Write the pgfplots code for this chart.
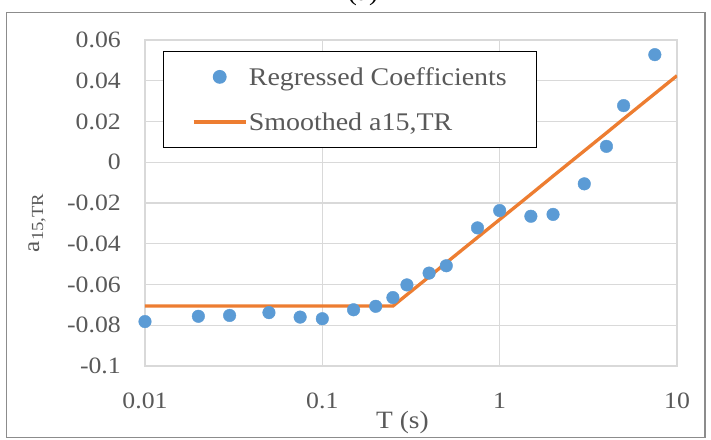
\documentclass[border=0pt]{standalone}
\usepackage{fontspec}
\setmainfont{Liberation Serif}[FakeStretch=1.1]
\usepackage{pgfplots}
\pgfplotsset{compat=1.18}
\definecolor{cblue}{HTML}{5B9BD5}
\definecolor{corange}{HTML}{ED7D31}
\definecolor{cgrid}{HTML}{D9D9D9}
\definecolor{ctext}{HTML}{595959}
\definecolor{cframe}{HTML}{8C8C8C}
\pgfplotsset{
  dotlegend/.style={legend image code/.code={\draw[mark repeat=2,mark phase=2,##1] plot coordinates {(0bp,0bp) (26bp,0bp) (52bp,0bp)};}},
  linelegend/.style={legend image code/.code={\draw[##1] (0bp,0bp) -- (52bp,0bp);}},
}
\begin{document}
\begin{tikzpicture}
\useasboundingbox (0,0) rectangle (711bp,440bp);
\fill[white] (0,0) rectangle (711bp,440bp);
\draw[cframe, line width=1.3bp] (6.5bp,2.5bp) rectangle (705bp,427.5bp);
\node[anchor=base, text=black, font=\fontsize{25}{30}\selectfont, inner sep=0] at (363bp,439bp) {(a)};
\begin{axis}[
  at={(145bp,74bp)}, anchor=south west,
  scale only axis, width=532bp, height=326bp,
  xmode=log, xmin=0.01, xmax=10, ymin=-0.1, ymax=0.06,
  xtick={0.01,0.1,1,10}, xticklabels={0.01,0.1,1,10},
  ytick={-0.1,-0.08,-0.06,-0.04,-0.02,0,0.02,0.04,0.06},
  yticklabels={-0.1,-0.08,-0.06,-0.04,-0.02,0,0.02,0.04,0.06},
  major tick length=0pt, minor tick length=0pt,
  grid=major,
  grid style={cgrid, line width=1.2bp},
  axis line style={cgrid, line width=1.2bp},
  ticklabel style={text=ctext, font=\fontsize{23.5}{28}\selectfont, inner sep=0pt},
  yticklabel style={anchor=east, xshift=-24bp},
  xticklabel style={anchor=north, yshift=-27bp},
  xlabel={T (s)},
  xlabel style={at={(axis description cs:0.484,0)}, anchor=center, yshift=-56.5bp, text=ctext, font=\fontsize{25}{30}\selectfont},
  ylabel={a\raisebox{-4bp}{\fontsize{17}{20}\selectfont 15,TR}},
  ylabel style={at={(axis description cs:-0.203,0.439)}, anchor=center, text=ctext, font=\fontsize{23}{28}\selectfont},
  legend style={at={(axis description cs:0.0338,0.966)}, anchor=north west,
    draw=black, line width=1.2bp, fill=white,
    inner xsep=28.5bp, inner ysep=14bp, row sep=23bp,
    nodes={inner sep=1.5bp, text=ctext},
    font=\fontsize{25.5}{30}\selectfont},
  legend cell align=left,
]
\addplot[only marks, mark=*, mark size=6.3bp, mark options={draw=cblue, fill=cblue}, dotlegend]
coordinates {
(0.01,-0.0782) (0.02,-0.0756) (0.03,-0.0752) (0.05,-0.0738) (0.075,-0.0760)
(0.1,-0.0768) (0.15,-0.0724) (0.2,-0.0707) (0.25,-0.0664) (0.3,-0.0602)
(0.4,-0.0544) (0.5,-0.0508) (0.75,-0.0322) (1,-0.0237) (1.5,-0.0265)
(2,-0.0256) (3,-0.0106) (4,0.0078) (5,0.0278) (7.5,0.0528)
};
\addlegendentry{Regressed Coefficients}
\addplot[corange, line width=3.3bp, no marks, linelegend]
coordinates {
(0.01,-0.0706) (0.02,-0.0706) (0.03,-0.0706) (0.05,-0.0706) (0.075,-0.0706)
(0.1,-0.0706) (0.15,-0.0706) (0.2,-0.0706) (0.25,-0.0706) (0.3,-0.0650)
(0.4,-0.0562) (0.5,-0.0493) (0.75,-0.0369) (1,-0.0281) (1.5,-0.0157)
(2,-0.0068) (3,0.0056) (4,0.0144) (5,0.0213) (7.5,0.0337) (10,0.0425)
};
\addlegendentry{Smoothed a15,TR}
\end{axis}
\end{tikzpicture}
\end{document}
